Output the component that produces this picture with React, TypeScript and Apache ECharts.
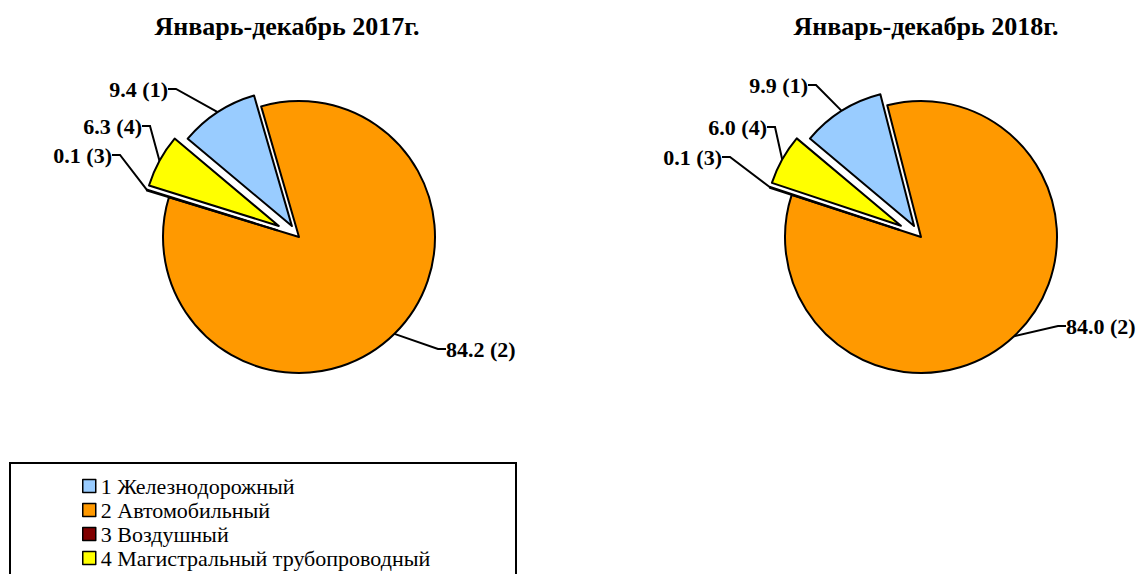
import React, { useEffect, useRef } from "react";
import * as echarts from "echarts";

const categories = ["1 Железнодорожный", "2 Автомобильный", "3 Воздушный", "4 Магистральный трубопроводный"];
const codes = [1, 2, 3, 4];
const colors = ["#99CCFF", "#FF9900", "#800000", "#FFFF00"];
const titles = ["Январь-декабрь 2017г.", "Январь-декабрь 2018г."];
const values2017 = [9.4, 84.2, 0.1, 6.3];
const values2018 = [9.9, 84.0, 0.1, 6.0];

// layout (not data)
const pieCenters = [[299, 237], [921, 237]];
const pieRadius = 136;
const startAngle = 140;
const explode = [13, 0, 23, 23]; // px offset of each slice
// label anchor positions per pie per data index [x, y, align]
const labelPos: [number, number, string][][] = [
  [[168, 89, "right"], [446, 349, "left"], [112, 155, "right"], [142, 126, "right"]],
  [[808, 85, "right"], [1066, 326, "left"], [722, 157, "right"], [767, 127, "right"]],
];
const titlePos = [287, 926];

const FONT = "'Liberation Serif', 'Times New Roman', serif";

function sliceCenter(values: number[], pieIdx: number, i: number) {
  const total = values.reduce((a, b) => a + b, 0);
  let cum = 0;
  for (let k = 0; k < i; k++) cum += values[k];
  const mid = ((startAngle - ((cum + values[i] / 2) / total) * 360) * Math.PI) / 180;
  const [cx, cy] = pieCenters[pieIdx];
  return [cx + Math.cos(mid) * explode[i], cy - Math.sin(mid) * explode[i]];
}

function buildSeries(values: number[], pieIdx: number, slice: number) {
  return {
    type: "pie",
    center: sliceCenter(values, pieIdx, slice),
    radius: pieRadius,
    startAngle,
    clockwise: true,
    avoidLabelOverlap: false,
    emphasis: { disabled: true },
    silent: true,
    label: {
      show: true,
      color: "#000",
      fontFamily: FONT,
      fontWeight: "bold",
      fontSize: 22,
      formatter: (p: any) => `${p.value.toFixed(1)} (${codes[p.dataIndex]})`,
    },
    labelLine: {
      show: true,
      length: 10,
      length2: 8,
      lineStyle: { color: "#000", width: 2 },
    },
    labelLayout: (params: any) => {
      const lp = labelPos[pieIdx][params.dataIndex];
      return { x: lp[0], y: lp[1], align: lp[2], verticalAlign: "middle" };
    },
    data: values.map((v, i) => {
      const visible = i === slice;
      return {
        name: categories[i],
        value: v,
        itemStyle: visible
          ? { color: colors[i], borderColor: "#000", borderWidth: 2 }
          : { color: "rgba(0,0,0,0)", borderWidth: 0 },
        label: { show: visible },
        labelLine: { show: visible },
      };
    }),
  };
}

export default function App() {
  const ref = useRef<HTMLDivElement>(null);
  useEffect(() => {
    document.body.style.margin = "0";
    const chart = echarts.init(ref.current!, null, { renderer: "svg" });
    const series: any[] = [];
    [values2017, values2018].forEach((vals, p) => {
      vals.forEach((_, i) => series.push(buildSeries(vals, p, i)));
    });
    chart.setOption({
      animation: false,
      backgroundColor: "#fff",
      graphic: [
        ...titles.map((t, i) => ({
          type: "text",
          x: titlePos[i],
          y: 26,
          style: {
            text: t,
            textAlign: "center",
            textVerticalAlign: "middle",
            font: `bold 26px ${FONT}`,
            fill: "#000",
          },
        })),
        {
          type: "rect",
          shape: { x: 10, y: 463, width: 506, height: 140 },
          style: { fill: "none", stroke: "#000", lineWidth: 2 },
          z: 0,
        },
      ],
      legend: {
        orient: "vertical",
        left: 82,
        top: 475,
        padding: 0,
        height: 120,
        itemWidth: 13,
        itemHeight: 13,
        itemGap: 2,
        icon: "rect",
        selectedMode: false,
        textStyle: { fontFamily: FONT, fontSize: 22, color: "#000" },
        data: categories.map((c, i) => ({
          name: c,
          itemStyle: { color: colors[i], borderColor: "#000", borderWidth: 1.5 },
        })),
      },
      series,
    });
    return () => chart.dispose();
  }, []);
  return <div ref={ref} style={{ width: 1139, height: 574 }} />;
}
